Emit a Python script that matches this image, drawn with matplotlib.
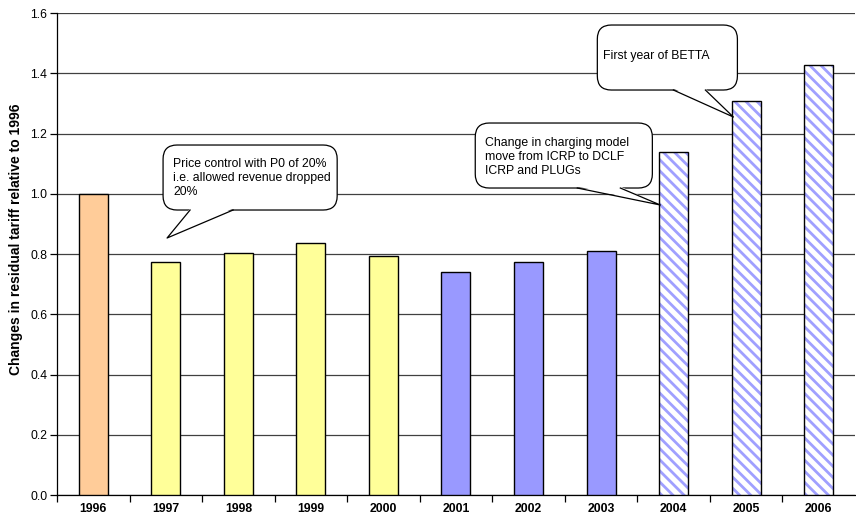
import matplotlib
matplotlib.use("Agg")
import matplotlib.pyplot as plt
from matplotlib.patches import FancyBboxPatch, Polygon

plt.rcParams["font.family"] = ["Liberation Sans", "DejaVu Sans"]
plt.rcParams["hatch.linewidth"] = 2.0

# data
years = ["1996", "1997", "1998", "1999", "2000", "2001", "2002", "2003", "2004", "2005", "2006"]
values = [1.0, 0.772, 0.805, 0.837, 0.793, 0.741, 0.772, 0.809, 1.137, 1.307, 1.426]
colors = ["#FFCC99"] + ["#FFFF99"] * 4 + ["#9999FF"] * 3 + ["white"] * 3
hatched = [False] * 8 + [True] * 3

fig = plt.figure(figsize=(8.56, 5.21), dpi=100)
ax = fig.add_axes([0.0666, 0.0499, 0.9322, 0.9251])

x = list(range(len(years)))
ax.set_xlim(-0.5, len(years) - 0.5)
ax.set_ylim(0, 1.6)

for i, (v, c, h) in enumerate(zip(values, colors, hatched)):
    if h:
        ax.bar(i, v, width=0.4, color="white", edgecolor="#A0A0FF",
               hatch="\\\\\\", linewidth=0, zorder=3)
        ax.bar(i, v, width=0.4, fill=False, edgecolor="black",
               linewidth=1, zorder=4)
    else:
        ax.bar(i, v, width=0.4, color=c, edgecolor="black",
               linewidth=1, zorder=3)

# grid and axes
ax.set_yticks([0, 0.2, 0.4, 0.6, 0.8, 1.0, 1.2, 1.4, 1.6])
ax.set_yticklabels([f"{t:.1f}" for t in ax.get_yticks()])
ax.yaxis.grid(True, color="#404040", linewidth=0.9, zorder=0)
ax.set_axisbelow(True)
ax.set_xticks(x)
ax.set_xticklabels(years, fontweight="bold", fontsize=8.8)
ax.set_xticks([i + 0.5 for i in x[:-1]] + [-0.5], minor=True)
ax.tick_params(axis="x", which="major", length=0, pad=6)
ax.tick_params(axis="x", which="minor", length=5, direction="out", width=0.9)
ax.tick_params(axis="y", length=5, width=0.9, labelsize=8.8, pad=2)
for s in ["top", "right"]:
    ax.spines[s].set_visible(False)
ax.spines["left"].set_linewidth(0.9)
ax.spines["bottom"].set_linewidth(0.9)
ax.set_ylabel("Changes in residual tariff relative to 1996",
              fontweight="bold", fontsize=10, labelpad=5)
ax.yaxis.set_label_coords(-0.042, 0.53)


def px(xp, yp):
    # convert pixel position of the reference into data coordinates
    return (xp - 57) / 72.5 - 0.5, (495 - yp) / 301.25


def callout(box, base, tip, text, text_pos, va="top"):
    x0, y1 = px(box[0], box[1])
    x1, y0 = px(box[2], box[3])
    r = 14 / 72.5
    patch = FancyBboxPatch((x0, y0), x1 - x0, y1 - y0,
                           boxstyle=f"round,pad=0,rounding_size={r}",
                           mutation_aspect=72.5 / 301.25,
                           facecolor="white", edgecolor="black",
                           linewidth=0.9, zorder=6, clip_on=False)
    ax.add_patch(patch)
    b0 = px(base[0], box[3] - 1.5)
    b1 = px(base[1], box[3] - 1.5)
    t = px(*tip)
    ax.add_patch(Polygon([b0, b1, t], closed=True, facecolor="white",
                         edgecolor="none", zorder=7, clip_on=False))
    bb0 = px(base[0], box[3])
    bb1 = px(base[1], box[3])
    ax.plot([bb0[0], t[0], bb1[0]], [bb0[1], t[1], bb1[1]],
            color="black", linewidth=0.9, zorder=8, clip_on=False)
    tx, ty = px(*text_pos)
    ax.text(tx, ty, text, fontsize=8.8, va=va, ha="left",
            linespacing=1.2, zorder=9)


callout((163, 145, 337, 210), (190, 233), (167, 238),
        "Price control with P0 of 20%\ni.e. allowed revenue dropped\n20%",
        (173, 158))
callout((475, 123, 652, 188), (577, 620), (660, 205),
        "Change in charging model\nmove from ICRP to DCLF\nICRP and PLUGs",
        (485, 137))
callout((597, 25, 737, 90), (673, 705), (733, 117),
        "First year of BETTA", (603, 56), va="center")

fig.savefig("out.png", dpi=100)
